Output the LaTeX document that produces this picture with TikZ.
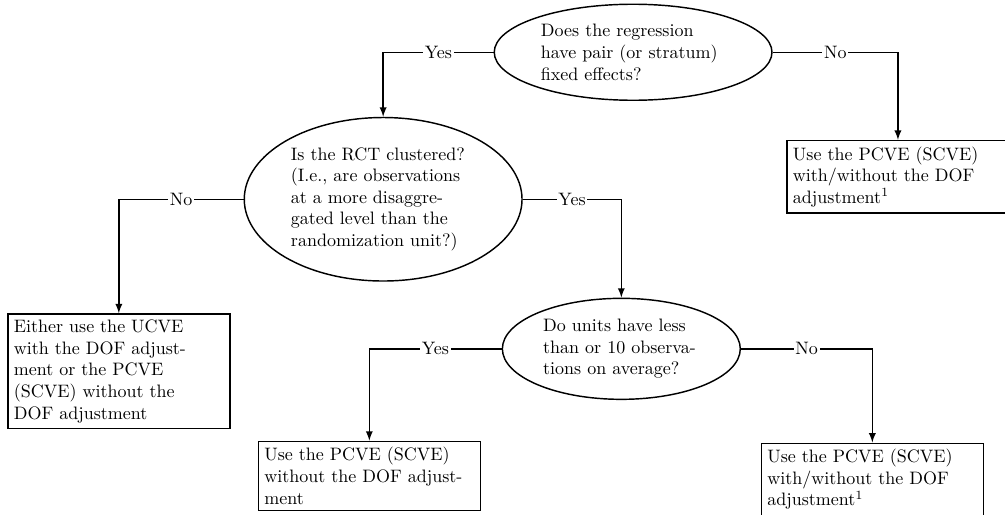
\documentclass[tikz,border=0pt]{standalone}
\usepackage{tikz}
\usepackage{amsmath}
\usetikzlibrary{arrows,shapes.geometric}
\tikzstyle{quest}=[ellipse,draw,thick,align=left,inner sep=0.3333em]
\tikzstyle{answ}=[rectangle,draw,thick,align=left,text width=4.1cm]

\begin{document}
\begin{tikzpicture}[
    lab/.style={fill=white,inner sep=1pt},
    conn/.style={thick,-latex}
    ]
    \useasboundingbox (0,0) rectangle (19.62,-10.04);

    % questions
    \node[quest,text width=3.6cm] (fe) at (12.36,-1.02)
      {Does the regression have pair (or stratum) fixed effects?};
    \node[quest,text width=3.6cm] (clu) at (7.48,-3.89)
      {Is the RCT clustered? (I.e., are observations at a more disaggregated level than the randomization unit?)};
    \node[quest,text width=3.05cm] (obs) at (12.13,-6.81)
      {Do units have less than or 10 observations on average?};

    % answers
    \node[answ] (nofe) at (17.53,-3.45)
      {Use the PCVE (SCVE) with/without the DOF adjustment$^1$};
    \node[answ] (noclu) at (2.32,-7.25)
      {Either use the UCVE\\ with the DOF adjust-\\ment or the PCVE\\ (SCVE) without the\\ DOF adjustment};
    \node[answ] (few) at (7.21,-9.29)
      {Use the PCVE (SCVE) without the DOF adjustment};
    \node[answ] (many) at (17.03,-9.36)
      {Use the PCVE (SCVE) with/without the DOF adjustment$^1$};

    % connectors
    \draw[conn] (fe.west) -| node[lab,pos=0.25] {Yes} (clu);
    \draw[conn] (fe.east) -| node[lab,pos=0.25] {No} (nofe);
    \draw[conn] (clu.west) -| node[lab,pos=0.25] {No} (noclu);
    \draw[conn] (clu.east) -| node[lab,pos=0.25] {Yes} (obs);
    \draw[conn] (obs.west) -| node[lab,pos=0.25] {Yes} (few);
    \draw[conn] (obs.east) -| node[lab,pos=0.25] {No} (many);

  \end{tikzpicture}
\end{document}
